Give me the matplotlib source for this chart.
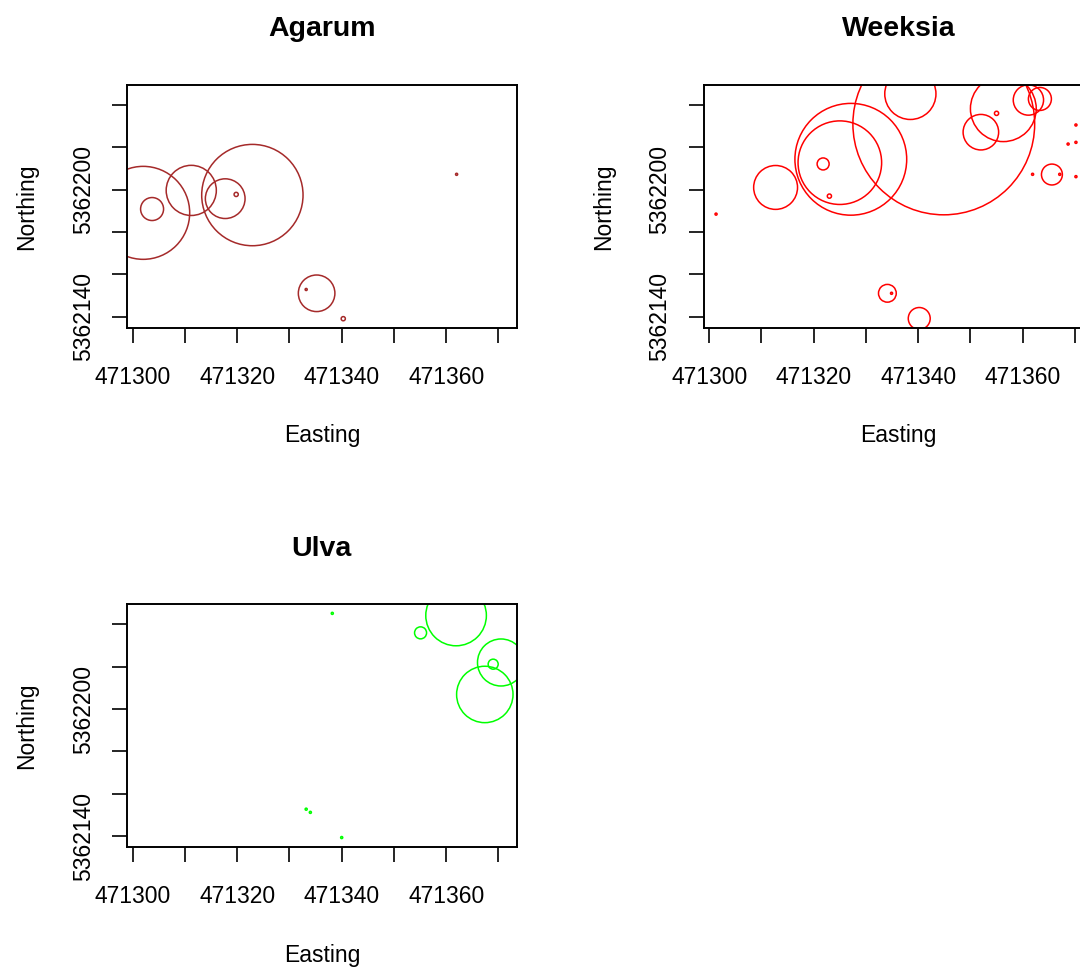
import numpy as np
import matplotlib
matplotlib.use('Agg')
import matplotlib.pyplot as plt
from matplotlib.collections import EllipseCollection

plt.rcParams['font.family'] = ['Liberation Sans', 'DejaVu Sans']

# quadrat positions (UTM) and cover radii (m) for each alga
agarum_east = [471302.0, 471303.7, 471311.2, 471317.7, 471319.8, 471322.9,
               471362.0, 471335.2, 471333.2, 471340.3]
agarum_north = [5362189.1, 5362190.9, 5362199.7, 5362195.8, 5362197.8, 5362197.5,
                5362207.3, 5362151.1, 5362152.9, 5362139.1]
agarum_rad = [8.9, 2.2, 4.8, 3.8, 0.4, 9.7, 0.2, 3.5, 0.2, 0.4]

weeksia_east = [471301.3, 471312.7, 471327.1, 471325.0, 471321.8, 471323.0,
                471344.9, 471338.5, 471352.0, 471356.3, 471355.0, 471361.1,
                471363.3, 471365.6, 471361.9, 471370.2, 471370.2, 471368.7,
                471370.2, 471367.1, 471334.1, 471334.9, 471340.2]
weeksia_north = [5362188.5, 5362201.1, 5362214.4, 5362212.8, 5362212.2, 5362197.0,
                 5362231.1, 5362245.3, 5362227.2, 5362238.3, 5362236.1, 5362242.4,
                 5362242.9, 5362207.2, 5362207.3, 5362230.6, 5362222.4, 5362221.6,
                 5362206.2, 5362207.3, 5362151.1, 5362151.1, 5362139.2]
weeksia_rad = [0.2, 4.2, 10.7, 8.0, 1.15, 0.4,
               17.4, 4.9, 3.4, 6.3, 0.4, 2.9,
               2.2, 2.0, 0.2, 0.2, 0.2, 0.2,
               0.2, 0.2, 1.7, 0.2, 2.1]

ulva_east = [471361.9, 471355.1, 471370.5, 471369.0, 471367.4,
             471338.2, 471333.2, 471334.0, 471340.0]
ulva_north = [5362244.2, 5362236.0, 5362222.0, 5362221.2, 5362206.9,
              5362245.2, 5362152.7, 5362151.2, 5362139.3]
ulva_rad = [5.8, 1.15, 4.5, 0.96, 5.4, 0.2, 0.2, 0.2, 0.2]

x_ticks = [471300, 471310, 471320, 471330, 471340, 471350, 471360, 471370]
x_labels = ['471300', '', '471320', '', '471340', '', '471360', '']
y_ticks = [5362140, 5362160, 5362180, 5362200, 5362220, 5362240]
y_labels = ['5362140', '', '', '5362200', '', '']

x_range = (471298.9, 471373.5)
y_range = (5362134.7, 5362249.5)


def bubble_panel(fig, rect, title, east, north, rad, colour):
    ax = fig.add_axes(rect)
    d = 2 * np.asarray(rad)
    circles = EllipseCollection(d, d, np.zeros(len(d)), units='x',
                                offsets=np.column_stack([east, north]),
                                offset_transform=ax.transData,
                                facecolors='none', edgecolors=colour,
                                linewidths=1.1)
    ax.add_collection(circles, autolim=False)
    ax.set_xlim(*x_range)
    ax.set_ylim(*y_range)

    ax.set_xticks(x_ticks)
    ax.set_xticklabels(x_labels)
    ax.set_yticks(y_ticks)
    ax.set_yticklabels(y_labels, rotation=90, va='center')
    ax.tick_params(length=11, width=1.2, labelsize=16.5)
    ax.tick_params(axis='x', pad=16)
    ax.tick_params(axis='y', pad=12)
    for s in ax.spines.values():
        s.set_linewidth(1.4)

    ax.set_title(title, fontsize=20.5, fontweight='bold', pad=35)
    ax.set_xlabel('Easting', fontsize=16.5, va='baseline')
    ax.xaxis.set_label_coords(0.5, -0.47)
    ax.set_ylabel('Northing', fontsize=16.5)
    ax.yaxis.set_label_coords(-0.228, 0.5)
    return ax


fig = plt.figure(figsize=(10.8, 9.69), dpi=100)
w, h = 0.3608, 0.2508
bubble_panel(fig, [0.1176, 0.6615, w, h], 'Agarum',
             agarum_east, agarum_north, agarum_rad, '#A52A2A')
bubble_panel(fig, [0.6514, 0.6615, w, h], 'Weeksia',
             weeksia_east, weeksia_north, weeksia_rad, '#FF0000')
bubble_panel(fig, [0.1176, 0.1256, w, h], 'Ulva',
             ulva_east, ulva_north, ulva_rad, '#00FF00')

fig.savefig('out.png', dpi=100)
